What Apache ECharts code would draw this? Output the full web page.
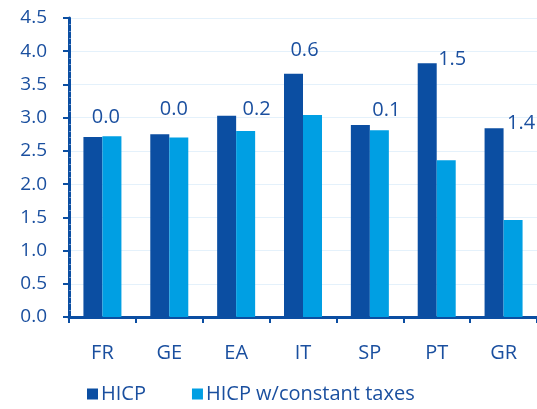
<!DOCTYPE html>
<html>
<head>
<meta charset="utf-8">
<script src="https://cdn.jsdelivr.net/npm/echarts@6/dist/echarts.min.js"></script>
<style>
    html, body { margin: 0; padding: 0; background: #fff; }
    #chart { width: 537px; height: 409px; }
</style>
</head>
<body>
<div id="chart"></div>
<script>
    // data
    var countries = ['FR', 'GE', 'EA', 'IT', 'SP', 'PT', 'GR'];
    var hicp = [2.71, 2.75, 3.03, 3.66, 2.89, 3.82, 2.84];
    var hicpConstTax = [2.72, 2.70, 2.80, 3.04, 2.81, 2.36, 1.46];
    var gapLabels = ['0.0', '0.0', '0.2', '0.6', '0.1', '1.5', '1.4'];
    var yTicks = [0, 4.5, 0.5];   // min, max, step

    // where each gap label sits relative to the top of the HICP bar
    var labelOffsets = [[13, -10], [14, -15], [30, 4], [11, -14], [26, -5], [25, 6], [27, 5]];

    var dark = '#0b4ea2';
    var light = '#009fe3';
    var textColor = '#1a4f9f';
    var font = 'Open Sans';

    var hicpData = hicp.map(function (v, i) {
        return {
            value: v,
            label: {
                show: true,
                position: 'top',
                distance: 0,
                offset: labelOffsets[i],
                formatter: gapLabels[i]
            }
        };
    });

    var option = {
        animation: false,
        textStyle: { fontFamily: font },
        grid: {
            left: 69,
            right: 0,
            top: 18,
            bottom: 92
        },
        legend: {
            left: 82,
            bottom: 0,
            itemWidth: 11,
            itemHeight: 11,
            itemGap: 46,
            icon: 'rect',
            textStyle: { color: textColor, fontSize: 20, fontFamily: font, padding: [0, 0, 0, -2] },
            data: ['HICP', 'HICP w/constant taxes']
        },
        xAxis: {
            type: 'category',
            data: countries,
            axisLine: { lineStyle: { color: dark, width: 3 } },
            axisTick: { show: true, length: 6, lineStyle: { color: dark, width: 2 } },
            axisLabel: { color: textColor, fontSize: 20, margin: 26, fontFamily: font }
        },
        yAxis: {
            type: 'value',
            min: yTicks[0],
            max: yTicks[1],
            interval: yTicks[2],
            axisLine: { show: true, lineStyle: { color: dark, width: 3 } },
            axisTick: { show: true, length: 6, lineStyle: { color: dark, width: 2 } },
            minorTick: { show: true, splitNumber: 5, length: -2, lineStyle: { color: '#6f95c9', width: 1 } },
            splitLine: { lineStyle: { color: '#e4f1fb', width: 1 } },
            axisLabel: {
                color: textColor,
                fontSize: 19,
                margin: 22,
                fontFamily: font,
                formatter: function (v) { return v.toFixed(1); }
            }
        },
        series: [
            {
                name: 'HICP',
                type: 'bar',
                barWidth: 19,
                barGap: '0%',
                data: hicpData,
                itemStyle: { color: dark },
                label: { color: textColor, fontSize: 20, fontFamily: font }
            },
            {
                name: 'HICP w/constant taxes',
                type: 'bar',
                barWidth: 19,
                data: hicpConstTax,
                itemStyle: { color: light }
            }
        ]
    };

    var chart = echarts.init(document.getElementById('chart'));
    chart.setOption(option);
</script>
</body>
</html>
